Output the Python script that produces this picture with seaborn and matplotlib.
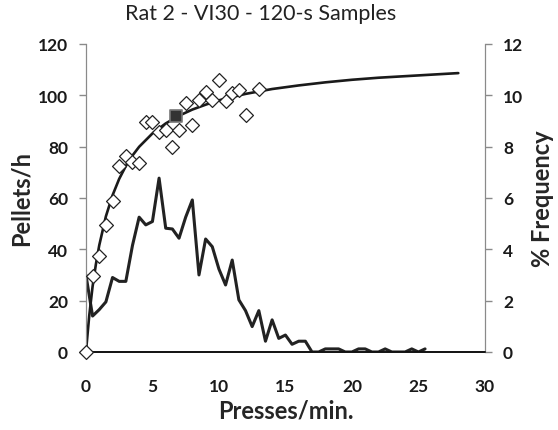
import numpy as np
import pandas as pd
import matplotlib
matplotlib.use("Agg")
import matplotlib.pyplot as plt
import seaborn as sns

# obtained response rates (diamonds), one per 0.5 presses/min bin
press_rate = [0, 0.5, 1.0, 1.5, 2.0, 2.5, 3.0, 3.5, 4.0, 4.5, 5.0, 5.5, 6.0, 6.5,
              7.0, 7.5, 8.0, 8.5, 9.0, 9.5, 10.0, 10.5, 11.0, 11.5, 12.0, 13.0]
pellets = [0, 29.7, 37.3, 49.3, 58.9, 72.3, 76.5, 74.1, 73.6, 89.7, 89.7, 85.8, 86.5, 79.7,
           86.6, 96.8, 88.2, 98.3, 101.3, 98.3, 105.8, 97.9, 100.7, 102.1, 92.3, 102.5]

# session mean (filled square)
mean_rate = [6.8]
mean_pellets = [91.8]

# fitted feedback curve
curve_x = [0, 0.25, 0.5, 0.75, 1.0, 1.5, 2.0, 2.5, 3.0, 3.5, 4.0, 5.0, 6.0, 7.0, 8.0,
           9.0, 10.0, 11.0, 12.0, 14.0, 16.0, 18.0, 20.0, 22.0, 24.0, 26.0, 28.0]
curve_y = [0, 14.2, 25.5, 34.2, 41.5, 52.8, 61.0, 67.4, 72.4, 76.5, 79.9, 85.1, 89.0, 92.0, 94.4,
           96.3, 98.0, 99.3, 100.5, 102.4, 103.8, 105.0, 106.0, 106.8, 107.4, 108.0, 108.6]

# % frequency distribution of press rates
freq_x = [0, 0.5, 1.0, 1.5, 2.0, 2.5, 3.0, 3.5, 4.0, 4.5, 5.0, 5.5, 6.0, 6.5, 7.0, 7.5, 8.0,
          8.5, 9.0, 9.5, 10.0, 10.5, 11.0, 11.5, 12.0, 12.5, 13.0, 13.5, 14.0, 14.5, 15.0,
          15.5, 16.0, 16.5, 17.0, 17.5, 18.0, 18.5, 19.0, 19.5, 20.0, 20.5, 21.0, 21.5, 22.0,
          22.5, 23.0, 23.5, 24.0, 24.5, 25.0, 25.5]
freq_pct = [3.0, 1.4, 1.65, 1.95, 2.9, 2.75, 2.75, 4.15, 5.25, 4.95, 5.08, 6.77, 4.82, 4.79, 4.43,
            5.25, 5.92, 3.0, 4.4, 4.1, 3.23, 2.61, 3.58, 2.03, 1.61, 0.99, 1.61, 0.42, 1.25,
            0.53, 0.66, 0.3, 0.42, 0.42, 0, 0, 0.12, 0.12, 0.12, 0, 0, 0.12, 0.12, 0, 0,
            0.12, 0, 0, 0, 0.12, 0, 0.12]

pts = pd.DataFrame({"rate": press_rate, "pellets": pellets})
curve = pd.DataFrame({"rate": curve_x, "pellets": curve_y})
freq = pd.DataFrame({"rate": freq_x, "pct": freq_pct})
mean_df = pd.DataFrame({"rate": mean_rate, "pellets": mean_pellets})

sns.set_style("white")
plt.rcParams["font.family"] = ["Lato", "DejaVu Sans"]

fig = plt.figure(figsize=(5.58, 4.31), dpi=100)
ax = fig.add_axes([0.154, 0.181, 0.715, 0.715])
ax2 = ax.twinx()

sns.lineplot(data=freq, x="rate", y="pct", ax=ax2, color="#222222", lw=2.2, sort=False)

sns.lineplot(data=curve, x="rate", y="pellets", ax=ax, color="#1a1a1a", lw=1.9, sort=False, zorder=2)
sns.scatterplot(data=pts, x="rate", y="pellets", ax=ax, marker="D", s=50,
                facecolor="white", edgecolor="#222222", linewidth=0.9, zorder=3, clip_on=False)
sns.scatterplot(data=mean_df, x="rate", y="pellets", ax=ax, marker="s", s=75,
                color="#333333", edgecolor="#777777", linewidth=1.2, zorder=4)

ax.set_zorder(ax2.get_zorder() + 1)
ax.patch.set_visible(False)

ax.set_xlim(0, 30)
ax.set_ylim(0, 120)
ax2.set_ylim(0, 12)
ax.set_xticks(range(0, 31, 5))
ax.set_yticks(range(0, 121, 20))
ax2.set_yticks(range(0, 13, 2))

for a in (ax, ax2):
    a.spines["top"].set_visible(False)
    a.spines["left"].set_color("#8a8a8a")
    a.spines["right"].set_color("#8a8a8a")
    a.spines["bottom"].set_color("#111111")
    a.spines["bottom"].set_linewidth(1.2)

ax.tick_params(axis="x", direction="out", length=5, width=1, color="#444444", pad=14,
               labelsize=12.5)
ax.tick_params(axis="y", direction="out", length=5, width=1, color="#8a8a8a", pad=8,
               labelsize=12.5, left=True)
ax2.tick_params(axis="y", direction="out", length=5, width=1, color="#8a8a8a", pad=8,
                labelsize=12.5, right=True)
for lab in ax.get_xticklabels() + ax.get_yticklabels() + ax2.get_yticklabels():
    lab.set_fontweight("bold")
    lab.set_color("#1a1a1a")

ax.set_xlabel("Presses/min.", fontsize=17, fontweight="bold", labelpad=3)
ax.set_ylabel("Pellets/h", fontsize=17, fontweight="bold", labelpad=4)
ax2.set_ylabel("% Frequency", fontsize=17, fontweight="bold", labelpad=6)

fig.text(261 / 558, 1 - 14 / 431, "Rat 2 - VI30 - 120-s Samples", ha="center", va="center",
         fontsize=15.5, color="#222222")

fig.savefig("out.png", dpi=100)
